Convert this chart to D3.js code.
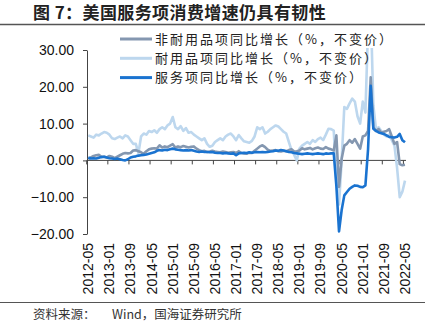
<!DOCTYPE html>
<html><head><meta charset="utf-8">
<script src="https://cdn.jsdelivr.net/npm/d3@7/dist/d3.min.js"></script>
<style>
body{margin:0;background:#fff;}
svg{display:block;}
</style></head>
<body>
<svg id="c" width="430" height="330"></svg>
<script>
const startYear = 2012, startMonth = 5, nMonths = 121;
const months = [];
for (let i = 0; i < nMonths; i++) {
  const t = startMonth - 1 + i;
  const y = startYear + Math.floor(t / 12), m = t % 12 + 1;
  months.push(y + "-" + String(m).padStart(2, "0"));
}
const tickLabels = ["2012-05","2013-01","2013-09","2014-05","2015-01","2015-09","2016-05","2017-01","2017-09","2018-05","2019-01","2019-09","2020-05","2021-01","2021-09","2022-05"];
const yTicks = [-20, -10, 0, 10, 20, 30];
const seriesNames = ["非耐用品项同比增长（%，不变价）","耐用品项同比增长（%，不变价）","服务项同比增长（%，不变价）"];
const colors = ["#8497B0","#BDD7EE","#1A73D0"];

const nondurable = [0.3,0.8,1.2,1.4,1.5,1.0,1.0,0.8,1.2,1.0,0.6,1.0,1.4,1.8,2.0,1.9,2.0,2.7,2.8,2.5,
  2.2,1.8,2.5,3.0,3.2,3.3,3.2,4.1,3.5,3.8,3.6,4.0,4.4,3.5,3.8,3.6,3.9,3.7,3.5,3.7,
  3.8,3.2,2.8,2.5,2.6,2.3,2.4,2.6,2.4,2.3,2.2,2.4,2.3,2.1,2.2,2.3,2.0,2.5,2.0,1.9,
  1.8,2.1,2.0,2.6,3.2,3.8,4.1,3.6,2.9,2.6,2.7,2.8,2.5,2.4,2.6,2.5,2.8,3.0,2.4,2.5,
  2.7,3.3,3.0,3.2,3.4,3.0,3.3,3.5,3.2,3.1,3.6,3.2,3.0,2.7,6.8,-7.2,0.5,4.0,4.5,5.5,
  4.8,5.8,4.5,3.2,6.5,6.8,8.0,22.6,9.0,8.0,8.5,7.5,7.8,8.0,8.5,6.5,4.5,5.0,-1.0,-1.3,-1.2];
const durable = [6.8,6.5,6.2,7.0,6.8,7.3,7.7,7.5,7.0,6.0,5.8,6.2,6.5,6.0,6.8,6.5,5.5,4.5,4.5,2.0,
  6.5,7.3,7.0,8.0,7.7,8.2,7.5,8.5,9.0,8.5,9.5,10.0,11.8,9.0,8.5,9.3,8.0,8.8,7.5,7.7,
  7.0,6.5,6.0,5.5,6.0,4.5,3.7,4.0,5.0,5.5,6.0,5.5,6.5,7.0,7.3,6.5,5.5,6.9,6.0,5.2,
  5.0,4.8,5.3,6.5,9.0,8.5,9.0,7.3,7.8,8.5,9.0,9.5,9.2,8.5,7.8,7.3,5.0,2.8,1.5,0.0,
  3.2,4.0,4.5,5.0,4.5,5.5,5.0,5.8,6.2,5.5,7.0,8.6,8.5,8.1,-6.0,-12.0,0.0,14.5,14.0,15.5,
  16.8,16.0,12.0,10.0,16.0,13.0,36.0,42.0,15.0,8.5,9.0,8.0,7.0,6.5,7.0,5.5,4.0,-2.0,-10.0,-8.5,-5.5];
const services = [0.8,0.5,0.6,0.5,0.7,0.9,1.0,0.8,0.6,0.5,0.4,0.5,0.3,0.1,0.0,0.3,0.8,1.0,1.1,1.3,
  1.4,1.5,1.6,1.8,2.0,2.2,2.6,2.8,2.7,2.9,2.8,3.0,3.2,3.0,2.9,2.8,2.7,2.8,2.7,2.8,
  2.6,2.4,2.3,2.4,2.3,2.3,2.2,2.3,2.1,2.0,2.0,1.9,2.0,1.9,1.8,1.9,1.4,1.9,2.0,2.1,
  2.0,2.2,2.1,2.2,2.3,2.2,2.3,2.2,2.3,2.4,2.5,2.7,2.6,2.8,2.7,2.5,2.3,2.2,2.0,1.9,
  1.8,1.7,1.8,1.9,1.8,1.7,1.8,1.9,1.8,1.7,1.9,1.8,1.9,1.9,-7.0,-19.3,-13.5,-9.5,-8.6,-7.7,
  -7.2,-6.8,-6.9,-7.2,-7.3,-6.8,3.0,20.3,8.6,8.0,7.6,7.4,7.2,6.8,6.4,6.3,6.2,6.4,7.2,5.5,4.9];

const svg = d3.select("#c");
const cjk = "'Noto Sans CJK SC','Noto Sans',sans-serif";
const latin = "'Liberation Sans',Arial,sans-serif";

// title
svg.append("text").attr("x", 33).attr("y", 19)
  .attr("font-family", cjk).attr("font-size", 17).attr("letter-spacing", 0.4).attr("font-weight", "bold").attr("fill", "#222")
  .text("图 7：美国服务项消费增速仍具有韧性");
svg.append("line").attr("x1", 0).attr("x2", 425).attr("y1", 24.5).attr("y2", 24.5)
  .attr("stroke", "#555").attr("stroke-width", 1.5);

const x = d3.scalePoint().domain(months).range([88.3, 405]);
const y = d3.scaleLinear().domain([-20, 30]).range([234, 50]);

// y axis
const yAxis = svg.append("g").attr("transform", "translate(87,0)")
  .call(d3.axisLeft(y).tickValues(yTicks).tickFormat(d3.format(".2f")).tickSize(4).tickSizeOuter(0).tickPadding(9));
yAxis.select(".domain").attr("stroke", "#444");
yAxis.selectAll(".tick line").attr("stroke", "#444");
yAxis.selectAll("text").attr("font-family", latin).attr("font-size", 14).attr("fill", "#111");

// x axis at zero
const step = x.step();
const xAxis = svg.append("g").attr("transform", `translate(0,${y(0)})`)
  .call(d3.axisBottom(x).tickValues(tickLabels).tickSize(4).tickSizeOuter(0).tickFormat(""));
xAxis.select(".domain").attr("stroke", "#444").attr("d", `M87,0H406`);
xAxis.selectAll(".tick").attr("transform", d => `translate(${x(d) - step * 0.6},0)`);
xAxis.selectAll(".tick line").attr("stroke", "#444");

// x labels (low position)
svg.append("g").selectAll("text").data(tickLabels).join("text")
  .attr("transform", d => `translate(${x(d)},243) rotate(-90)`)
  .attr("text-anchor", "end").attr("dy", "0.35em")
  .attr("font-family", latin).attr("font-size", 14).attr("fill", "#111")
  .text(d => d);

// clip
svg.append("clipPath").attr("id", "clip").append("rect")
  .attr("x", 80).attr("y", 48).attr("width", 340).attr("height", 200);

const line = d3.line().x((d, i) => x(months[i])).y(d => y(d));
const data = [nondurable, durable, services];
const order = [1, 0, 2];
const g = svg.append("g").attr("clip-path", "url(#clip)");
order.forEach(k => {
  g.append("path").datum(data[k]).attr("d", line)
    .attr("fill", "none").attr("stroke", colors[k]).attr("stroke-width", 2.6)
    .attr("stroke-linejoin", "round");
});

// legend
const leg = svg.append("g");
seriesNames.forEach((n, i) => {
  const yy = 39 + i * 19.3;
  leg.append("line").attr("x1", 120).attr("x2", 152).attr("y1", yy).attr("y2", yy)
    .attr("stroke", colors[i]).attr("stroke-width", 3);
  leg.append("text").attr("x", 155).attr("y", yy + 4.5)
    .attr("font-family", cjk).attr("font-size", 13).attr("letter-spacing", 2).attr("fill", "#222")
    .text(n);
});

// source
svg.append("line").attr("x1", 0).attr("x2", 425).attr("y1", 302.5).attr("y2", 302.5)
  .attr("stroke", "#555").attr("stroke-width", 1.2);
svg.append("text").attr("x", 33).attr("y", 319)
  .attr("font-family", cjk).attr("font-size", 12.5).attr("fill", "#333")
  .text("资料来源：");
svg.append("text").attr("x", 112).attr("y", 319)
  .attr("font-family", cjk).attr("font-size", 12.5).attr("fill", "#333")
  .text("Wind，国海证券研究所");
</script>
</body></html>
